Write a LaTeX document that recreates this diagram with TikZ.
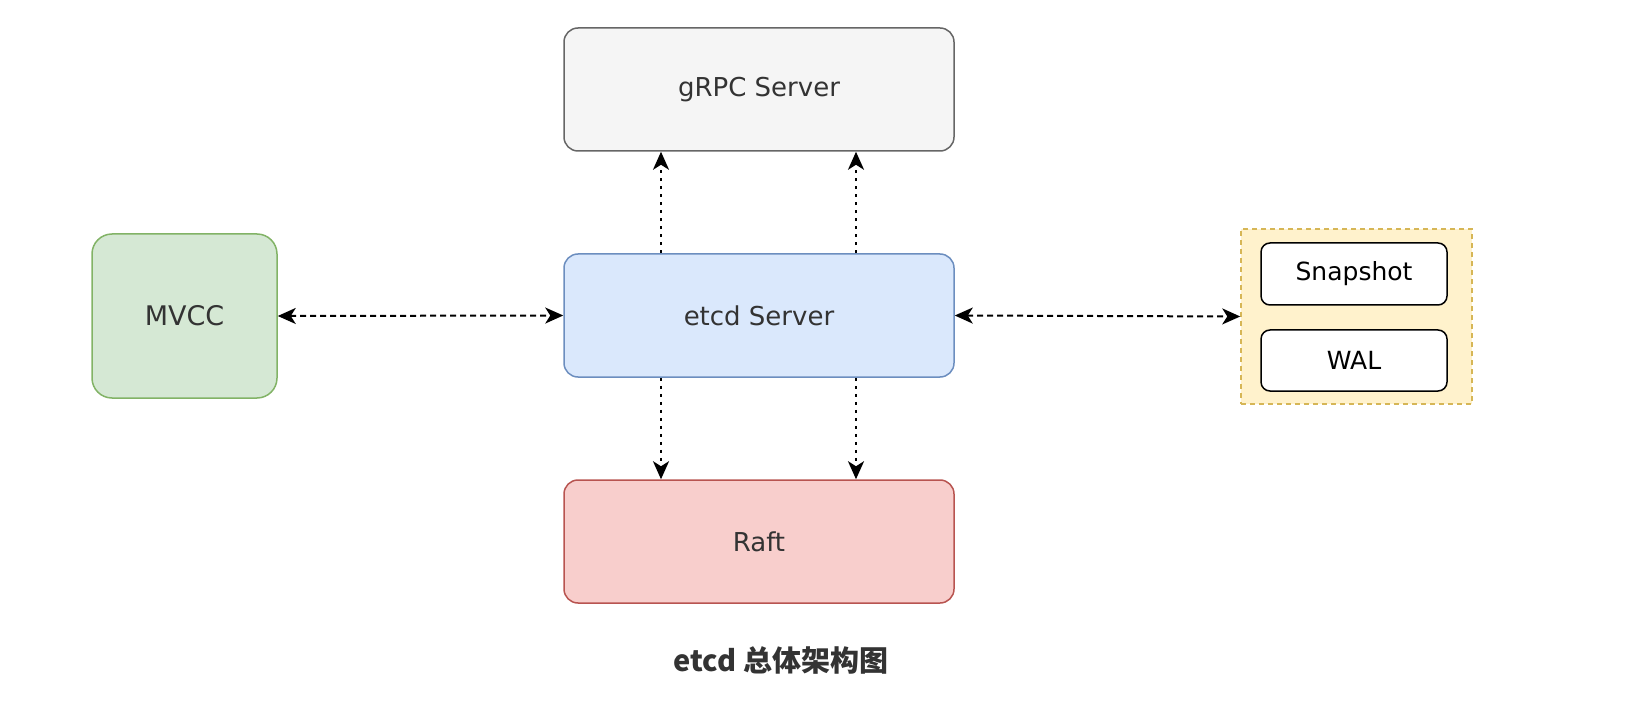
\documentclass[tikz,border=0pt]{standalone}
\usepackage{fontspec}
\setmainfont{DejaVu Sans}
\newfontfamily\cjk{Noto Sans CJK SC}
\usetikzlibrary{arrows.meta}
\definecolor{grayfill}{HTML}{F5F5F5}
\definecolor{graystroke}{HTML}{666666}
\definecolor{bluefill}{HTML}{DAE8FC}
\definecolor{bluestroke}{HTML}{6C8EBF}
\definecolor{redfill}{HTML}{F8CECC}
\definecolor{redstroke}{HTML}{B85450}
\definecolor{greenfill}{HTML}{D5E8D4}
\definecolor{greenstroke}{HTML}{82B366}
\definecolor{yellowfill}{HTML}{FFF2CC}
\definecolor{yellowstroke}{HTML}{D6B656}
\definecolor{txt}{HTML}{333333}
\begin{document}
\begin{tikzpicture}[x=1pt,y=-1pt,
  box/.style={draw, line width=1.5pt, rounded corners=14pt, inner sep=0pt, font=\fontsize{26}{30}\selectfont, text=txt},
  smallbox/.style={draw=black, fill=white, line width=1.5pt, rounded corners=9pt, inner sep=0pt, font=\fontsize{25}{29}\selectfont, text=black},
  conn/.style={line width=2pt, dash pattern=on 6pt off 4pt, {Stealth[length=18pt,width=16pt,inset=5pt]}-{Stealth[length=18pt,width=16pt,inset=5pt]}},
  vconn/.style={line width=2.2pt, dash pattern=on 3pt off 5pt, -{Stealth[length=18pt,width=16pt,inset=5pt]}}
]
\useasboundingbox (0,0) rectangle (1648,708);
\node[box, fill=grayfill, draw=graystroke, minimum width=390pt, minimum height=123pt] (grpc) at (759,89.5) {gRPC Server};
\node[box, fill=bluefill, draw=bluestroke, minimum width=390pt, minimum height=123pt] (etcd) at (759,315.5) {etcd Server};
\node[box, fill=redfill, draw=redstroke, minimum width=390pt, minimum height=123pt] (raft) at (759,541.5) {Raft};
\node[box, fill=greenfill, draw=greenstroke, minimum width=185pt, minimum height=164pt, rounded corners=20pt, font=\fontsize{27}{31}\selectfont] (mvcc) at (184.5,316) {MVCC};
\node[draw=yellowstroke, fill=yellowfill, line width=1.5pt, dash pattern=on 5pt off 4pt, minimum width=231pt, minimum height=175pt, inner sep=0pt] (store) at (1356.5,316.5) {};
\node[smallbox, minimum width=186pt, minimum height=62pt] (snap) at (1354,274) {Snapshot};
\node[smallbox, minimum width=186pt, minimum height=61pt] (wal) at (1354,360.5) {WAL};
\coordinate (u1) at (661,254);
\coordinate (u2) at (856,254);
\draw[vconn] (etcd.north -| u1) -- (grpc.south -| u1);
\draw[vconn] (etcd.north -| u2) -- (grpc.south -| u2);
\draw[vconn] (etcd.south -| u1) -- (raft.north -| u1);
\draw[vconn] (etcd.south -| u2) -- (raft.north -| u2);
\draw[conn] (mvcc.east) -- (etcd.west);
\draw[conn] (etcd.east) -- (store.west);
\node[font=\cjk\bfseries\fontsize{29}{33}\selectfont, text=txt] (cap) at (781,660) {etcd 总体架构图};
\end{tikzpicture}
\end{document}
